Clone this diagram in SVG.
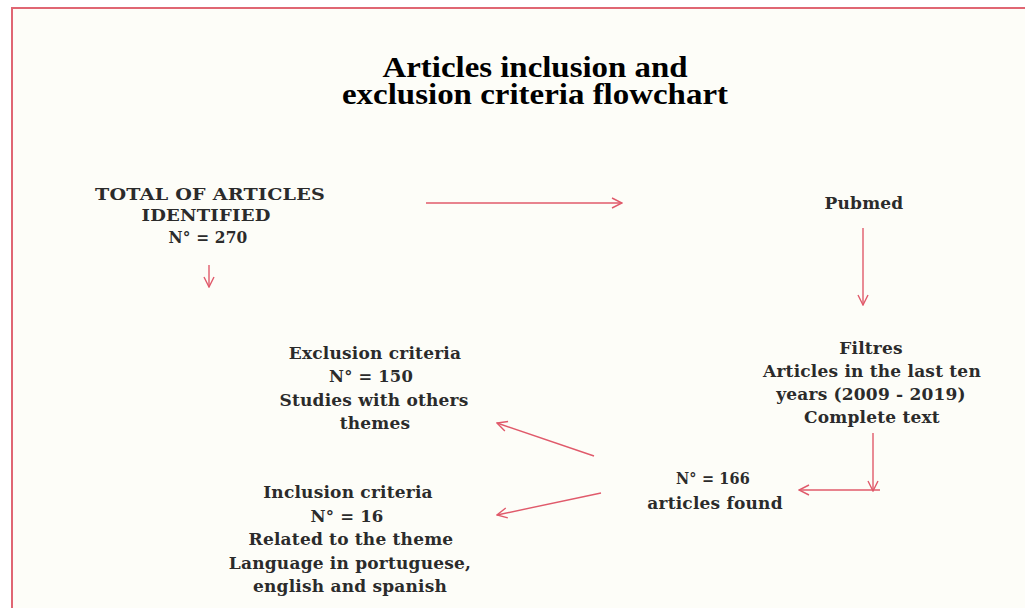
<svg xmlns="http://www.w3.org/2000/svg" width="1025" height="608" viewBox="0 0 1025 608">
<defs>
<style>
.t{font-family:"DejaVu Serif","Liberation Serif",serif;font-weight:bold;font-size:17px;letter-spacing:0.2px;fill:#2b2b2b;text-anchor:middle}
.title{font-family:"Liberation Serif",serif;font-weight:bold;font-size:29px;fill:#000;text-anchor:middle}
.c{stroke:#e05a6b;stroke-width:1.4;fill:none}
</style>
<marker id="ah" viewBox="0 0 12 12" refX="11" refY="6" markerWidth="12" markerHeight="12" markerUnits="userSpaceOnUse" orient="auto">
<path d="M1,1 L11,6 L1,11" fill="none" stroke="#e05a6b" stroke-width="1.4"/>
</marker>
</defs>
<rect x="0" y="0" width="1025" height="608" fill="#ffffff"/>
<rect x="12" y="8" width="1020" height="610" fill="#fdfdf8" stroke="#e06673" stroke-width="2"/>
<g id="title">
<text class="title" x="535" y="77" textLength="305" lengthAdjust="spacingAndGlyphs">Articles inclusion and</text>
<text class="title" x="535" y="104" textLength="386" lengthAdjust="spacingAndGlyphs">exclusion criteria flowchart</text>
</g>
<g id="total">
<text class="t" x="210" y="200" textLength="230" lengthAdjust="spacingAndGlyphs">TOTAL OF ARTICLES</text>
<text class="t" x="206" y="221" textLength="129" lengthAdjust="spacingAndGlyphs">IDENTIFIED</text>
<text class="t" x="208" y="243" textLength="79" lengthAdjust="spacingAndGlyphs">N° = 270</text>
</g>
<g id="pubmed">
<text class="t" x="864" y="209">Pubmed</text>
</g>
<g id="filtres">
<text class="t" x="871" y="354">Filtres</text>
<text class="t" x="872" y="377">Articles in the last ten</text>
<text class="t" x="871" y="400">years (2009 - 2019)</text>
<text class="t" x="872" y="423">Complete text</text>
</g>
<g id="found">
<text class="t" x="713" y="484" textLength="74" lengthAdjust="spacingAndGlyphs">N° = 166</text>
<text class="t" x="715" y="509">articles found</text>
</g>
<g id="exclusion">
<text class="t" x="375" y="359">Exclusion criteria</text>
<text class="t" x="371" y="382" textLength="84" lengthAdjust="spacingAndGlyphs">N° = 150</text>
<text class="t" x="374" y="406">Studies with others</text>
<text class="t" x="375" y="429">themes</text>
</g>
<g id="inclusion">
<text class="t" x="348" y="498">Inclusion criteria</text>
<text class="t" x="347" y="522" textLength="73" lengthAdjust="spacingAndGlyphs">N° = 16</text>
<text class="t" x="351" y="545">Related to the theme</text>
<text class="t" x="350" y="569">Language in portuguese,</text>
<text class="t" x="350" y="592">english and spanish</text>
</g>
<g id="connectors">
<line class="c" x1="209" y1="265" x2="209" y2="287" marker-end="url(#ah)"/>
<line class="c" x1="426" y1="203" x2="622" y2="203" marker-end="url(#ah)"/>
<line class="c" x1="863" y1="228" x2="863" y2="305" marker-end="url(#ah)"/>
<line class="c" x1="873" y1="433" x2="873" y2="491" marker-end="url(#ah)"/>
<line class="c" x1="880" y1="490" x2="799" y2="490" marker-end="url(#ah)"/>
<line class="c" x1="594" y1="456" x2="497" y2="423" marker-end="url(#ah)"/>
<line class="c" x1="601" y1="493" x2="497" y2="515" marker-end="url(#ah)"/>
</g>
</svg>
